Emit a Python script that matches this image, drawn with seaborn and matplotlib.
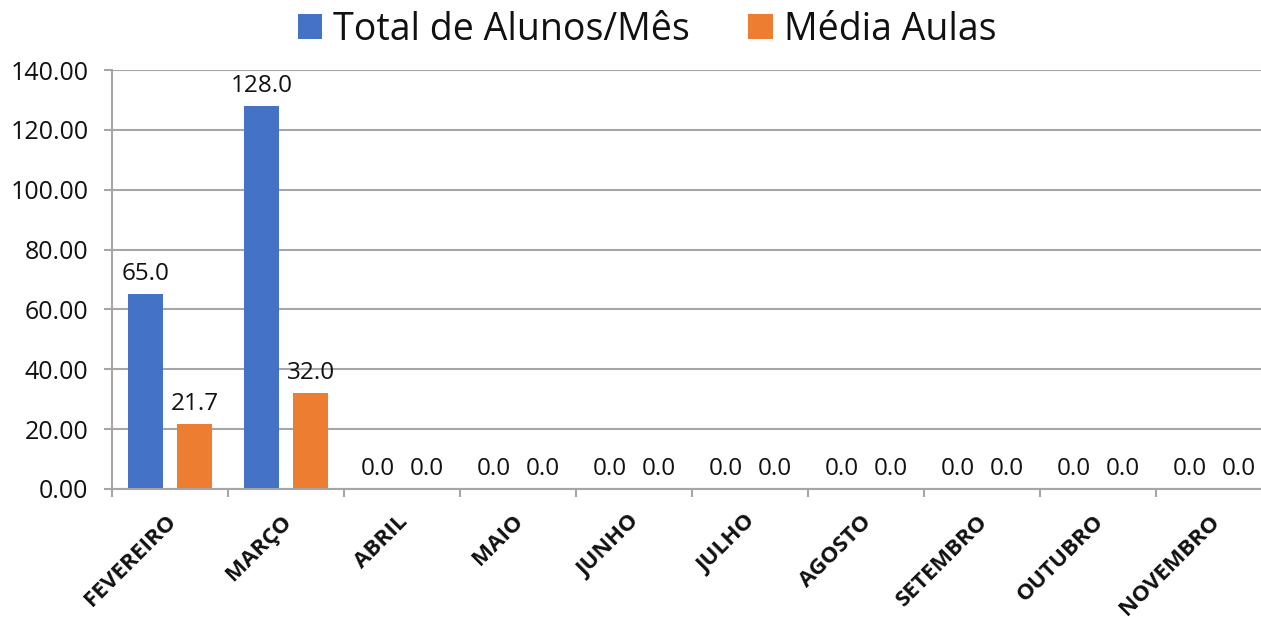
import seaborn as sns
import pandas as pd
import matplotlib.pyplot as plt
import matplotlib.transforms as mtransforms
from matplotlib.ticker import FormatStrFormatter, FixedLocator

meses = ["FEVEREIRO", "MARÇO", "ABRIL", "MAIO", "JUNHO", "JULHO",
         "AGOSTO", "SETEMBRO", "OUTUBRO", "NOVEMBRO"]
series = ["Total de Alunos/Mês", "Média Aulas"]
total_alunos = [65.0, 128.0, 0, 0, 0, 0, 0, 0, 0, 0]
media_aulas = [21.7, 32.0, 0, 0, 0, 0, 0, 0, 0, 0]
cores = ["#4472C4", "#ED7D31"]

df = pd.DataFrame({
    "mes": meses * 2,
    "serie": [series[0]] * len(meses) + [series[1]] * len(meses),
    "valor": total_alunos + media_aulas,
})

sns.set_theme(style="white")
plt.rcParams['font.family'] = ['Open Sans', 'DejaVu Sans']

fig = plt.figure(figsize=(12.61, 6.17), dpi=100)
ax = fig.add_axes([112 / 1261, 1 - 489 / 617, 1160 / 1261, 419 / 617])

sns.barplot(data=df, x="mes", y="valor", hue="serie", palette=cores,
            saturation=1, width=0.845, gap=0.286, linewidth=0, ax=ax, legend=True)

for cont in ax.containers:
    ax.bar_label(cont, fmt="%.1f", padding=6, fontsize=17.5, color="#111111")

ax.set_ylim(0, 140)
ax.set_yticks(range(0, 141, 20))
ax.yaxis.set_major_formatter(FormatStrFormatter("%.2f"))
ax.set_xlim(-0.5, len(meses) - 0.5)
ax.set(xlabel="", ylabel="")
ax.grid(axis="y", color="#A6A6A6", linewidth=1.5)
ax.set_axisbelow(True)
for s in ["top", "right"]:
    ax.spines[s].set_visible(False)
for s in ["left", "bottom"]:
    ax.spines[s].set_color("#A6A6A6")
    ax.spines[s].set_linewidth(1.5)

ax.tick_params(axis="y", labelsize=18, length=6, width=1.5, color="#A6A6A6",
               left=True, pad=11, labelcolor="#111111")
ax.tick_params(axis="x", which="major", length=0, pad=16, labelcolor="#111111")
ax.xaxis.set_minor_locator(FixedLocator([i - 0.5 for i in range(len(meses) + 1)]))
ax.tick_params(axis="x", which="minor", bottom=True, length=6, width=1.5,
               color="#A6A6A6")
shift = mtransforms.ScaledTranslation(-5 / 100, 0, fig.dpi_scale_trans)
for lab in ax.get_xticklabels():
    lab.set_rotation(45)
    lab.set_ha("right")
    lab.set_rotation_mode("anchor")
    lab.set_fontweight("bold")
    lab.set_fontsize(16.2)
    lab.set_transform(lab.get_transform() + shift)

ax.legend(loc="center", bbox_to_anchor=((647 - 112) / 1160, 1 + (489 - 30) / 419 - 1),
          ncol=2, frameon=False, fontsize=27, handlelength=0.65, handleheight=0.65,
          handletextpad=0.3, columnspacing=1.55, borderaxespad=0, labelcolor="#111111")

plt.savefig("out.png", dpi=100)
